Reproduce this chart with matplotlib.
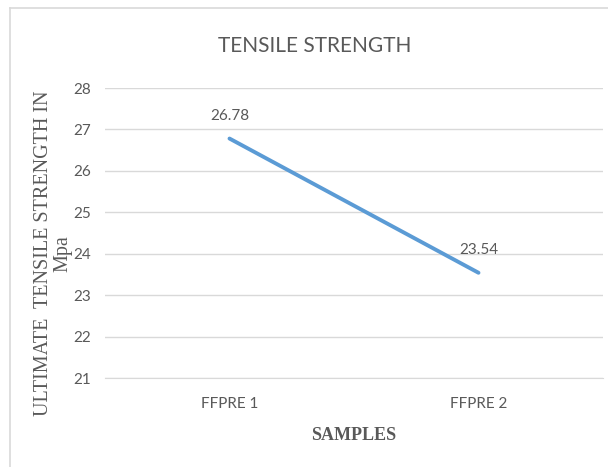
import matplotlib
matplotlib.use('Agg')
import matplotlib.pyplot as plt
from matplotlib.lines import Line2D

# data
samples = ['FFPRE 1', 'FFPRE 2']
strength = [26.78, 23.54]
y_ticks = [21, 22, 23, 24, 25, 26, 27, 28]

GRAY = '#595959'
BLUE = '#5B9BD5'
sans = ['Liberation Sans Narrow', 'Lato', 'DejaVu Sans']
serif = ['Liberation Serif', 'DejaVu Serif']

fig = plt.figure(figsize=(6.08, 4.67), dpi=100)
ax = fig.add_axes([105 / 608, 1 - 378 / 467, 498 / 608, 290 / 467])

x = list(range(len(samples)))
ax.plot(x, strength, color=BLUE, lw=2.8, solid_capstyle='round')
for xi, v in zip(x, strength):
    ax.annotate(f'{v:.2f}', (xi, v), xytext=(0, 11), textcoords='offset points',
                ha='center', va='bottom', fontsize=11, color=GRAY, family=sans)

ax.set_xlim(-0.5, len(samples) - 0.5)
ax.set_ylim(21, 28)
ax.set_yticks(y_ticks)
ax.set_xticks(x)
ax.set_xticklabels(samples)
ax.grid(axis='y', color='#D9D9D9', lw=1)
ax.set_axisbelow(True)
for s in ['top', 'right', 'left']:
    ax.spines[s].set_visible(False)
ax.spines['bottom'].set_color('#D9D9D9')
ax.tick_params(axis='x', length=0, labelcolor=GRAY, labelsize=11, pad=14)
ax.tick_params(axis='y', length=0, labelcolor=GRAY, labelsize=11, pad=10)
for lab in ax.get_xticklabels() + ax.get_yticklabels():
    lab.set_family(sans)

ax.set_xlabel('SAMPLES', family=serif, fontweight='bold', fontsize=13,
              color=GRAY, labelpad=11)
ax.set_ylabel('ULTIMATE  TENSILE STRENGTH IN\nMpa', family=serif, fontsize=14.5,
              color=GRAY, linespacing=1.0)
ax.yaxis.set_label_coords(-0.066, 0.43)

fig.text(315 / 608, 1 - 46 / 467, 'TENSILE STRENGTH', ha='center', va='center',
         fontsize=15, color=GRAY, family=sans)

# chart frame (only left and top edges visible)
fig.add_artist(Line2D([10 / 608, 10 / 608], [0, 1 - 8 / 467], color='#D9D9D9', lw=1.2))
fig.add_artist(Line2D([10 / 608, 1], [1 - 8 / 467, 1 - 8 / 467], color='#D9D9D9', lw=1.2))

fig.savefig('out.png', dpi=100)
